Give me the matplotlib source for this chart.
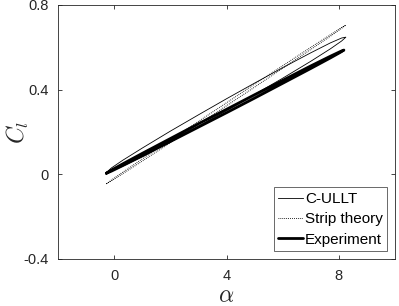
import matplotlib
matplotlib.use("Agg")
import matplotlib.pyplot as plt

plt.rcParams['font.family'] = ['Liberation Sans', 'DejaVu Sans']
plt.rcParams['mathtext.fontset'] = 'cm'

# C-ULLT loop (upper and lower branches)
cullt_alpha = [-0.28, -0.1, 0.3, 1.0, 2.0, 3.0, 4.0, 5.0, 6.0, 7.0, 7.7, 8.1, 8.25]
cullt_upper = [0.008, 0.030, 0.066, 0.124, 0.204, 0.281, 0.357, 0.431, 0.504, 0.574, 0.621, 0.644, 0.648]
cullt_lower = [0.008, 0.014, 0.038, 0.084, 0.154, 0.227, 0.301, 0.377, 0.454, 0.534, 0.593, 0.630, 0.648]

# Strip theory loop
strip_alpha = [-0.28, -0.1, 0.3, 1.0, 2.0, 3.0, 4.0, 5.0, 6.0, 7.0, 7.7, 8.1, 8.25]
strip_upper = [-0.045, -0.027, 0.0095, 0.0725, 0.161, 0.250, 0.338, 0.426, 0.513, 0.600, 0.6595, 0.694, 0.705]
strip_lower = [-0.045, -0.031, 0.0025, 0.0625, 0.149, 0.236, 0.324, 0.412, 0.501, 0.590, 0.6525, 0.690, 0.705]

# Experiment loop
exp_alpha = [-0.28, -0.1, 0.3, 1.0, 2.0, 3.0, 4.0, 5.0, 6.0, 7.0, 7.7, 8.05, 8.18]
exp_upper = [0.005, 0.020, 0.049, 0.099, 0.169, 0.239, 0.307, 0.376, 0.444, 0.512, 0.558, 0.580, 0.587]
exp_lower = [0.005, 0.015, 0.041, 0.087, 0.155, 0.223, 0.291, 0.360, 0.430, 0.500, 0.550, 0.576, 0.587]

xticks = [0, 4, 8]
yticks = [-0.4, 0, 0.4, 0.8]
ytick_labels = ['-0.4', '0', '0.4', '0.8']


def loop(a, up, lo):
    xs = list(a) + list(reversed(a))
    ys = list(up) + list(reversed(lo))
    return xs, ys


fig = plt.figure(figsize=(3.99, 3.06), dpi=100)
ax = fig.add_axes([0.1454, 0.1536, 0.8446, 0.8301])

x, y = loop(cullt_alpha, cullt_upper, cullt_lower)
ax.plot(x, y, color='black', lw=0.6, label='C-ULLT')
x, y = loop(strip_alpha, strip_upper, strip_lower)
ax.plot(x, y, color='black', lw=0.7, ls=(0, (0.8, 1.2)), label='Strip theory')
x, y = loop(exp_alpha, exp_upper, exp_lower)
ax.plot(x, y, color='black', lw=2.0, solid_capstyle='round', label='Experiment')

ax.set_xlim(-2, 10)
ax.set_ylim(-0.4, 0.8)
ax.set_xticks(xticks)
ax.set_yticks(yticks)
ax.set_yticklabels(ytick_labels)

axcol = '#262626'
for s in ax.spines.values():
    s.set_color(axcol)
    s.set_linewidth(0.6)
ax.tick_params(direction='in', top=True, right=True, length=3, width=0.6,
               color=axcol, labelsize=10.5, labelcolor=axcol, pad=7)

ax.set_xlabel(r'$\alpha$', fontsize=17, color=axcol, va='center')
ax.xaxis.set_label_coords(0.5, -0.145)
ax.set_ylabel(r'$C_l$', fontsize=17, color=axcol, va='center')
ax.yaxis.set_label_coords(-0.12, 0.5)

leg = ax.legend(loc='lower right', fontsize=11, frameon=True, fancybox=False,
                edgecolor=axcol, handlelength=1.6, handletextpad=0.15,
                borderpad=0.3, labelspacing=0.42, borderaxespad=0.5)
leg.get_frame().set_linewidth(0.6)
for t in leg.get_texts():
    t.set_color('black')

fig.savefig('out.png', dpi=100)
